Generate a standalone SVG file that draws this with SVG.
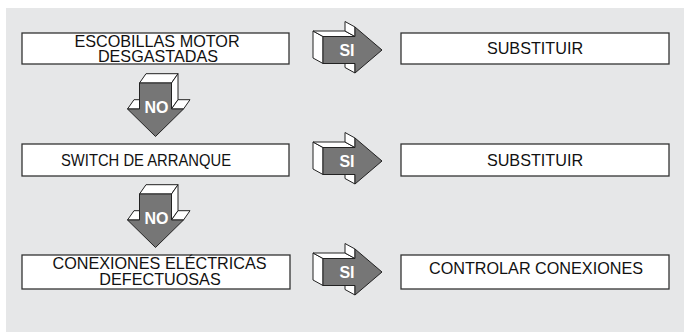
<svg xmlns="http://www.w3.org/2000/svg" width="684" height="332" viewBox="0 0 684 332">
<style>
.box{fill:#fff;stroke:#333;stroke-width:1.3}
.t{font-family:"Liberation Sans",Arial,sans-serif;font-size:16.2px;fill:#111;text-anchor:middle}
.lbl{font-family:"Liberation Sans",Arial,sans-serif;font-size:16px;font-weight:bold;fill:#fff;text-anchor:middle}
.side{fill:#fff;stroke:#222;stroke-width:1;stroke-linejoin:round}
.front{fill:#767676;stroke:#222;stroke-width:1;stroke-linejoin:round}
</style>
<defs>
<g id="siArrow">
<path class="side" d="M323,36.5 L313,31 L313,58 L323,63.5 Z"/>
<path class="side" d="M313,31 L345,31 L355,36.5 L323,36.5 Z"/>
<path class="side" d="M345,31 L345,21.5 L355,27 L355,36.5 Z"/>
<path class="side" d="M345,58 L345,67.5 L355,73 L355,63.5 Z"/>
<path class="front" d="M323,36.5 L355,36.5 L355,27 L382,50 L355,73 L355,63.5 L323,63.5 Z"/>
<text class="lbl" x="347" y="55.7">SI</text>
</g>
<g id="noArrow">
<path class="side" d="M139.5,83 L146,73.7 L178,73.7 L171.5,83 Z"/>
<path class="side" d="M171.5,83 L178,73.7 L178,99.7 L171.5,109 Z"/>
<path class="side" d="M127.5,109 L134,99.7 L146,99.7 L139.5,109 Z"/>
<path class="side" d="M171.5,109 L178,99.7 L190,99.7 L183.5,109 Z"/>
<path class="front" d="M139.5,83 L171.5,83 L171.5,109 L183.5,109 L155.5,136.5 L127.5,109 L139.5,109 Z"/>
<text class="lbl" x="156.5" y="113.3">NO</text>
</g>
</defs>
<rect x="6" y="8" width="678" height="324" fill="#e6e7e8"/>
<g id="connectors">
<use href="#siArrow"/>
<use href="#siArrow" transform="translate(0,111)"/>
<use href="#siArrow" transform="translate(0,222)"/>
<use href="#noArrow"/>
<use href="#noArrow" transform="translate(0,111)"/>
</g>
<g id="n1">
<rect class="box" x="22" y="33" width="267" height="31"/>
<text class="t" x="157" y="47.3">ESCOBILLAS MOTOR</text>
<text class="t" x="158" y="61.7">DESGASTADAS</text>
</g>
<g id="r1">
<rect class="box" x="401" y="33" width="268" height="31"/>
<text class="t" x="535" y="54">SUBSTITUIR</text>
</g>
<g id="n2">
<rect class="box" x="22" y="144" width="267" height="32"/>
<text class="t" x="146" y="165.8" textLength="170" lengthAdjust="spacingAndGlyphs">SWITCH DE ARRANQUE</text>
</g>
<g id="r2">
<rect class="box" x="401" y="144" width="268" height="32"/>
<text class="t" x="535" y="165.8">SUBSTITUIR</text>
</g>
<g id="n3">
<rect class="box" x="22" y="255" width="268" height="34"/>
<text class="t" x="159.5" y="269.3">CONEXIONES ELÉCTRICAS</text>
<text class="t" x="160" y="285">DEFECTUOSAS</text>
</g>
<g id="r3">
<rect class="box" x="401" y="255" width="268" height="34"/>
<text class="t" x="536" y="274.3">CONTROLAR CONEXIONES</text>
</g>
</svg>
